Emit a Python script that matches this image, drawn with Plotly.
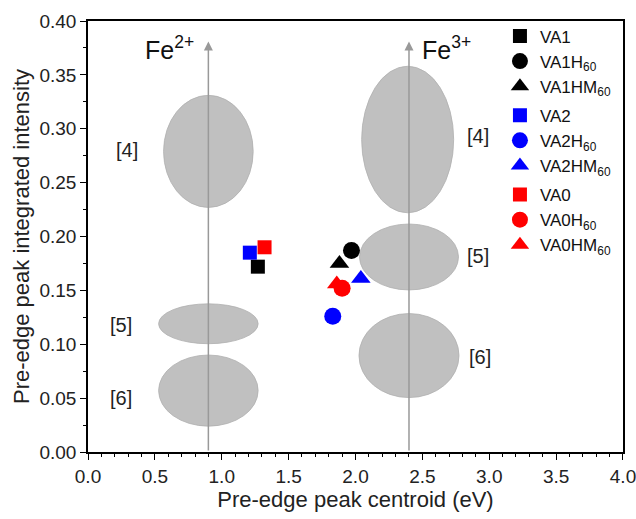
import plotly.graph_objects as go

# ---- data ----
series_names = ["VA1", "VA1H<sub>60</sub>", "VA1HM<sub>60</sub>",
                "VA2", "VA2H<sub>60</sub>", "VA2HM<sub>60</sub>",
                "VA0", "VA0H<sub>60</sub>", "VA0HM<sub>60</sub>"]
groups = ["A1", "A1", "A1", "A2", "A2", "A2", "A0", "A0", "A0"]
centroid = [1.27, 1.97, 1.88, 1.21, 1.83, 2.04, 1.32, 1.90, 1.86]
intensity = [0.172, 0.187, 0.175, 0.185, 0.126, 0.161, 0.190, 0.152, 0.156]
colors = ["black", "black", "black", "blue", "blue", "blue", "red", "red", "red"]
symbols = ["square", "circle", "triangle-up"] * 3

# reference regions (ellipses): center x, center y, half-width, half-height, label
region_cx = [0.90, 0.90, 0.90, 2.39, 2.40, 2.40]
region_cy = [0.279, 0.119, 0.057, 0.290, 0.181, 0.0895]
region_rx = [0.335, 0.372, 0.372, 0.344, 0.37, 0.374]
region_ry = [0.052, 0.0185, 0.033, 0.068, 0.0306, 0.039]
region_labels = ["[4]", "[5]", "[6]", "[4]", "[5]", "[6]"]
label_x = [0.29, 0.25, 0.25, 2.915, 2.915, 2.93]
label_y = [0.280, 0.118, 0.050, 0.293, 0.182, 0.088]

ref_x = [0.9, 2.4]
ref_names = ["Fe<sup>2+</sup>", "Fe<sup>3+</sup>"]
ref_label_x = [0.61, 2.68]
ref_label_y = [0.375, 0.375]
arrow_top = 0.381

x_ticks = [0.0, 0.5, 1.0, 1.5, 2.0, 2.5, 3.0, 3.5, 4.0]
y_ticks = [0.00, 0.05, 0.10, 0.15, 0.20, 0.25, 0.30, 0.35, 0.40]

FONT = "Liberation Sans, Arial, sans-serif"

fig = go.Figure()

for n, g, x, y, c, s in zip(series_names, groups, centroid, intensity, colors, symbols):
    size = 14 if s == "square" else 17
    fig.add_trace(go.Scatter(
        x=[x], y=[y], mode="markers", name=n, legendgroup=g,
        marker=dict(symbol=s, color=c, size=size, line=dict(width=0)),
    ))

shapes = []
for cx, cy, rx, ry in zip(region_cx, region_cy, region_rx, region_ry):
    shapes.append(dict(type="circle", xref="x", yref="y",
                       x0=cx - rx, x1=cx + rx, y0=cy - ry, y1=cy + ry,
                       fillcolor="#c0c0c0", line=dict(color="#b0b0b0", width=0.8),
                       layer="below"))

annotations = []
for lx, ly, t in zip(label_x, label_y, region_labels):
    annotations.append(dict(x=lx, y=ly, xref="x", yref="y", text=t, showarrow=False,
                            font=dict(family=FONT, size=20, color="#222")))
for rx_, nm, lx, ly in zip(ref_x, ref_names, ref_label_x, ref_label_y):
    annotations.append(dict(x=rx_, y=arrow_top, ax=rx_, ay=0, xref="x", yref="y",
                            axref="x", ayref="y", text="", showarrow=True,
                            arrowhead=2, arrowsize=1.2, arrowwidth=1.5,
                            arrowcolor="#999999"))
    annotations.append(dict(x=lx, y=ly, xref="x", yref="y", text=nm, showarrow=False,
                            font=dict(family=FONT, size=25, color="#111")))

axis_common = dict(
    showline=True, linecolor="black", linewidth=1.5, mirror=True,
    ticks="outside", ticklen=6, tickwidth=1.2, tickcolor="black",
    showgrid=False, zeroline=False, automargin=False,
    ticklabeloverflow="allow",
    tickfont=dict(family=FONT, size=19, color="#222"),
)

fig.update_layout(
    width=636, height=519,
    margin=dict(l=88, r=13, t=21, b=67),
    paper_bgcolor="white", plot_bgcolor="white",
    shapes=shapes, annotations=annotations,
    showlegend=True,
    legend=dict(x=0.77, y=1.006, xanchor="left", yanchor="top",
                bgcolor="rgba(0,0,0,0)", borderwidth=0,
                font=dict(family=FONT, size=17, color="#111"),
                itemwidth=30, tracegroupgap=4, traceorder="grouped"),
    xaxis=dict(range=[0, 4.0001], tickvals=x_ticks,
               ticktext=[f"{v:.1f}" for v in x_ticks],
               minor=dict(dtick=0.1, ticks="outside", ticklen=3, tickcolor="black"),
               title=dict(text="Pre-edge peak centroid (eV)",
                          font=dict(family=FONT, size=22, color="#222"), standoff=3),
               **axis_common),
    yaxis=dict(range=[0, 0.40], tickvals=y_ticks,
               ticktext=[f"{v:.2f}" for v in y_ticks],
               minor=dict(dtick=0.025, ticks="outside", ticklen=3, tickcolor="black"),
               title=dict(text="Pre-edge peak integrated intensity",
                          font=dict(family=FONT, size=22, color="#222"), standoff=4),
               **axis_common),
)

fig.write_html("out.html", post_script="document.body.style.margin='0px';",
               config={"displayModeBar": False})
